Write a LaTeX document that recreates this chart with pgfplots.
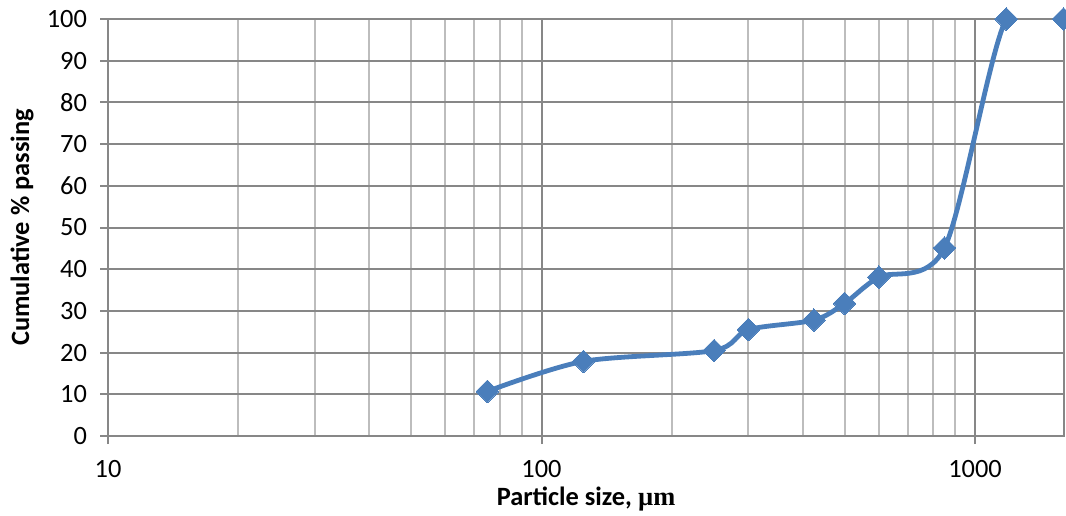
\documentclass[border=0pt]{standalone}
\usepackage{pgfplots}
\pgfplotsset{compat=1.18}
\usepackage{fontspec}
\setmainfont{Carlito}
\newfontfamily\serifbold[BoldFont={Liberation Serif Bold}]{Liberation Serif}
\definecolor{seriesblue}{HTML}{4A7EBB}
\definecolor{majorgrid}{HTML}{878787}
\definecolor{minorgrid}{HTML}{BDBDBD}
\begin{document}
\begin{tikzpicture}
\begin{axis}[
  at={(0,0)}, anchor=south west,
  scale only axis,
  width=478pt, height=208.5pt,
  xmode=log, log basis x=10,
  xmin=10, xmax=1604,
  ymin=0, ymax=100,
  ytick={0,10,...,100},
  xtick={10,100,1000},
  xticklabels={10,100,1000},
  minor xtick={20,30,40,50,60,70,80,90,200,300,400,500,600,700,800,900},
  grid=both,
  major grid style={majorgrid, line width=1pt},
  minor grid style={minorgrid, line width=1pt},
  axis line style={majorgrid, line width=1pt},
  tick style={majorgrid, line width=1pt},
  tick align=outside,
  major tick length=4pt,
  minor tick length=0pt,
  xtick pos=bottom, ytick pos=left,
  tick label style={font=\fontsize{13.2}{15}\selectfont, text=black},
  /pgf/number format/assume math mode=true,
  yticklabel style={xshift=-3pt},
  xticklabel style={yshift=-4.5pt},
  xlabel={\textbf{Particle size, {\serifbold\bfseries µm}}},
  ylabel={\textbf{Cumulative \% passing}},
  label style={font=\fontsize{13.2}{15}\selectfont},
  xlabel style={at={(axis description cs:0.5,-0.152)}, anchor=center},
  ylabel style={at={(axis description cs:-0.090,0.5)}, anchor=center},
  clip marker paths=false,
]
\addplot[seriesblue, line width=2.4pt, smooth, tension=0.5,
  mark=square*, mark size=4pt,
  mark options={rotate=45, fill=seriesblue, draw=seriesblue, line width=0pt}]
  coordinates {
  (75,10.7) (125,17.9) (250,20.5) (300,25.5) (425,27.8)
  (500,31.8) (600,38.1) (850,45.1) (1180,100) (1600,100)
  };
\end{axis}
\pgfresetboundingbox
\useasboundingbox (-54pt,-39.5pt) rectangle (479pt,218pt);
\end{tikzpicture}
\end{document}
